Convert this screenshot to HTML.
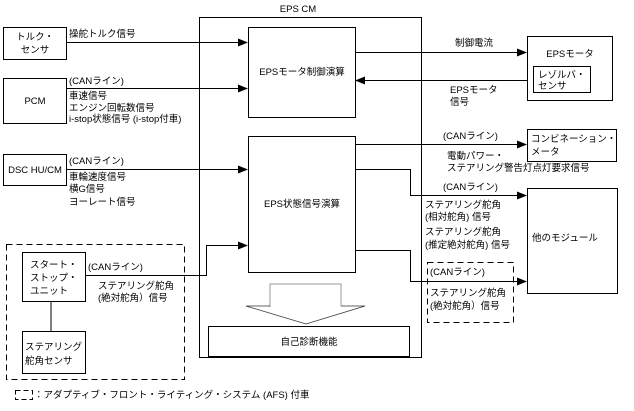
<!DOCTYPE html>
<html><head><meta charset="utf-8"><style>
body{margin:0;background:#fff}
svg text{font-family:"Liberation Sans","Noto Sans CJK JP",sans-serif;font-size:9.5px;fill:#000}
</style></head><body>
<svg width="634" height="406" viewBox="0 0 634 406" xmlns="http://www.w3.org/2000/svg">
<defs><marker id="a" markerWidth="10" markerHeight="8" refX="9" refY="4" orient="auto" markerUnits="userSpaceOnUse"><path d="M0,0 L10,4 L0,8z" fill="#000"/></marker></defs>
<g fill="none" stroke="#000" stroke-width="1">
<rect x="199.5" y="17.5" width="222" height="340"/>
<rect x="248.5" y="27.5" width="107" height="90"/>
<rect x="248.5" y="136.5" width="107" height="136"/>
<rect x="208.5" y="326.5" width="201" height="30"/>
<polyline points="270,307 270,284 341,284 341,306" stroke="#999"/>
<polyline points="270,306 246,306 306,324 365,306 341,306" stroke="#333" stroke-width="0.7"/>
<rect x="3.5" y="27.5" width="63" height="32"/>
<rect x="3.5" y="78.5" width="63" height="45"/>
<rect x="3.5" y="154.5" width="63" height="31"/>
<rect x="6.5" y="244.5" width="178" height="135" stroke-dasharray="6,4"/>
<rect x="22.5" y="252.5" width="63" height="49"/>
<rect x="22.5" y="331.5" width="63" height="42"/>
<line x1="51" y1="301" x2="51" y2="331"/>
<rect x="527.5" y="36.5" width="85" height="64"/>
<rect x="533.5" y="66.5" width="57" height="26"/>
<rect x="527.5" y="129.5" width="89" height="32"/>
<rect x="527.5" y="188.5" width="90" height="105"/>
<rect x="427.5" y="262.5" width="86" height="60" stroke-dasharray="6,4"/>
<line x1="66" y1="42.5" x2="247" y2="42.5" marker-end="url(#a)"/>
<line x1="66" y1="88.5" x2="247" y2="88.5" marker-end="url(#a)"/>
<line x1="66" y1="169.5" x2="247" y2="169.5" marker-end="url(#a)"/>
<polyline points="85,275.5 206.5,275.5 206.5,245.5 247,245.5" marker-end="url(#a)"/>
<line x1="355" y1="52.5" x2="526" y2="52.5" marker-end="url(#a)"/>
<line x1="527" y1="80.5" x2="356" y2="80.5" marker-end="url(#a)"/>
<line x1="355" y1="144.5" x2="526" y2="144.5" marker-end="url(#a)"/>
<polyline points="355,169.5 410.5,169.5 410.5,195.5 526,195.5" marker-end="url(#a)"/>
<polyline points="355,250.5 410.5,250.5 410.5,281.5 526,281.5" marker-end="url(#a)"/>
<rect x="15.5" y="390.5" width="17" height="9" stroke-dasharray="5,3"/>
</g>
<text x="298" y="12" text-anchor="middle">EPS CM</text>
<text x="302" y="75" text-anchor="middle">EPSモータ制御演算</text>
<text x="302" y="207" text-anchor="middle">EPS状態信号演算</text>
<text x="309" y="345" text-anchor="middle">自己診断機能</text>
<text x="35" y="40" text-anchor="middle">トルク・</text>
<text x="35" y="53" text-anchor="middle">センサ</text>
<text x="35" y="104" text-anchor="middle">PCM</text>
<text x="35" y="173" text-anchor="middle">DSC HU/CM</text>
<text x="69" y="37">操舵トルク信号</text>
<text x="69" y="84">(CANライン)</text>
<text x="69" y="99">車速信号</text>
<text x="69" y="111">エンジン回転数信号</text>
<text x="69" y="122">i-stop状態信号 (i-stop付車)</text>
<text x="69" y="164">(CANライン)</text>
<text x="69" y="180">車輪速度信号</text>
<text x="69" y="192">横G信号</text>
<text x="69" y="205">ヨーレート信号</text>
<text x="30" y="268">スタート・</text>
<text x="30" y="281">ストップ・</text>
<text x="30" y="294">ユニット</text>
<text x="25" y="350">ステアリング</text>
<text x="25" y="364">舵角センサ</text>
<text x="88" y="270">(CANライン)</text>
<text x="98" y="289">ステアリング舵角</text>
<text x="98" y="301">(絶対舵角）信号</text>
<text x="474" y="46" text-anchor="middle">制御電流</text>
<text x="450" y="93">EPSモータ</text>
<text x="450" y="105">信号</text>
<text x="570" y="57" text-anchor="middle">EPSモータ</text>
<text x="538" y="78">レゾルバ・</text>
<text x="538" y="89">センサ</text>
<text x="443" y="139">(CANライン)</text>
<text x="531" y="142">コンビネーション・</text>
<text x="531" y="155">メータ</text>
<text x="447" y="159">電動パワー・</text>
<text x="447" y="171">ステアリング警告灯点灯要求信号</text>
<text x="443" y="190">(CANライン)</text>
<text x="425" y="208">ステアリング舵角</text>
<text x="425" y="220">(相対舵角) 信号</text>
<text x="425" y="235">ステアリング舵角</text>
<text x="425" y="248">(推定絶対舵角) 信号</text>
<text x="532" y="241">他のモジュール</text>
<text x="430" y="275">(CANライン)</text>
<text x="430" y="296">ステアリング舵角</text>
<text x="430" y="309">(絶対舵角）信号</text>
<text x="34" y="398">：アダプティブ・フロント・ライティング・システム (AFS) 付車</text>
</svg>
</body></html>
